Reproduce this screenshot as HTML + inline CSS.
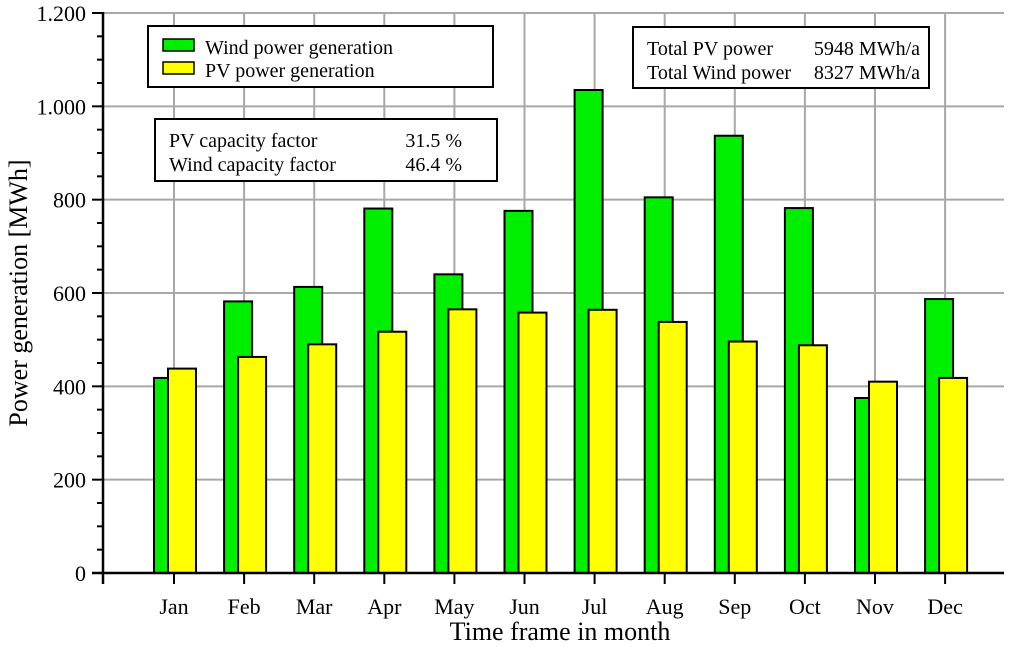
<!DOCTYPE html>
<html><head><meta charset="utf-8"><style>
html,body{margin:0;padding:0;background:#fff;}
svg{display:block;font-family:"Liberation Serif",serif;}
</style></head><body>
<svg id="chart" width="1024" height="647" viewBox="0 0 1024 647">
<g id="grid"></g>
<g id="bars"></g>
<g id="axes"></g>
<text x="560" y="640" font-size="26" text-anchor="middle">Time frame in month</text>
<text transform="translate(27,293) rotate(-90)" font-size="26" text-anchor="middle">Power generation [MWh]</text>
<g>
<rect x="148" y="26" width="345" height="61" fill="#fff" stroke="#000" stroke-width="2"/>
<g><rect x="163" y="39" width="31" height="12" fill="#00ee00" stroke="#000" stroke-width="1.5"/><text x="205" y="54" font-size="20">Wind power generation</text></g>
<g><rect x="163" y="62" width="31" height="12" fill="#ffff00" stroke="#000" stroke-width="1.5"/><text x="205" y="77" font-size="20">PV power generation</text></g>
</g>
<g>
<rect x="155" y="119" width="342" height="62" fill="#fff" stroke="#000" stroke-width="2"/>
<text x="169" y="147" font-size="20">PV capacity factor</text><text x="462" y="147" font-size="20" text-anchor="end">31.5 %</text>
<text x="169" y="171" font-size="20">Wind capacity factor</text><text x="462" y="171" font-size="20" text-anchor="end">46.4 %</text>
</g>
<g>
<rect x="633" y="27" width="296" height="61" fill="#fff" stroke="#000" stroke-width="2"/>
<text x="647" y="55" font-size="20">Total PV power</text><text x="920" y="55" font-size="20" text-anchor="end">5948 MWh/a</text>
<text x="647" y="79" font-size="20">Total Wind power</text><text x="920" y="79" font-size="20" text-anchor="end">8327 MWh/a</text>
</g>
</svg>
<script>
const months = ["Jan","Feb","Mar","Apr","May","Jun","Jul","Aug","Sep","Oct","Nov","Dec"];
const windValues = [418,582,613,781,640,776,1035,805,937,782,375,587];
const pvValues = [438,463,490,517,565,558,564,538,496,488,410,418];
const yTicks = [0,200,400,600,800,1000,1200];
const yTickLabels = ["0","200","400","600","800","1.000","1.200"];
const NS="http://www.w3.org/2000/svg";
const x0=103, xR=1004, y0=573, yTop=13, yMax=1200;
function ys(v){return y0-(v/yMax)*(y0-yTop);}
function xc(i){return 174+i*70.1;}
function mk(tag,attrs,parent){const e=document.createElementNS(NS,tag);for(const k in attrs)e.setAttribute(k,attrs[k]);parent.appendChild(e);return e;}
const grid=document.getElementById('grid'),bars=document.getElementById('bars'),axes=document.getElementById('axes');
yTicks.forEach((t,i)=>{if(t===0)return;const l=mk('line',{x1:x0,x2:xR,y1:ys(t),y2:ys(t),stroke:'#a8a8a8','stroke-width':2},grid);

});
months.forEach((m,i)=>{const l=mk('line',{x1:xc(i),x2:xc(i),y1:yTop,y2:y0,stroke:'#a8a8a8','stroke-width':2},grid);

});
months.forEach((m,i)=>{const c=xc(i);
const w=mk('rect',{x:c-20,y:ys(windValues[i]),width:28,height:y0-ys(windValues[i]),fill:'#00ee00',stroke:'#000','stroke-width':2},bars);


const p=mk('rect',{x:c-6,y:ys(pvValues[i]),width:28,height:y0-ys(pvValues[i]),fill:'#ffff00',stroke:'#000','stroke-width':2},bars);

});
mk('line',{x1:x0,x2:x0,y1:yTop-1,y2:584,stroke:'#000','stroke-width':2.5},axes);
mk('line',{x1:92,x2:xR,y1:y0,y2:y0,stroke:'#000','stroke-width':2.5},axes);
for(let v=0;v<=yMax;v+=50){const major=v%200===0;mk('line',{x1:major?92:97,x2:x0,y1:ys(v),y2:ys(v),stroke:'#000','stroke-width':2},axes);}
yTicks.forEach((t,i)=>{const tx=mk('text',{x:86,y:ys(t)+8,'font-size':22,'text-anchor':'end'},axes);tx.textContent=yTickLabels[i];

});
months.forEach((m,i)=>{mk('line',{x1:xc(i),x2:xc(i),y1:y0,y2:584,stroke:'#000','stroke-width':2},axes);
const tx=mk('text',{x:xc(i),y:614,'font-size':22,'text-anchor':'middle'},axes);tx.textContent=m;

});
</script>
</body></html>
